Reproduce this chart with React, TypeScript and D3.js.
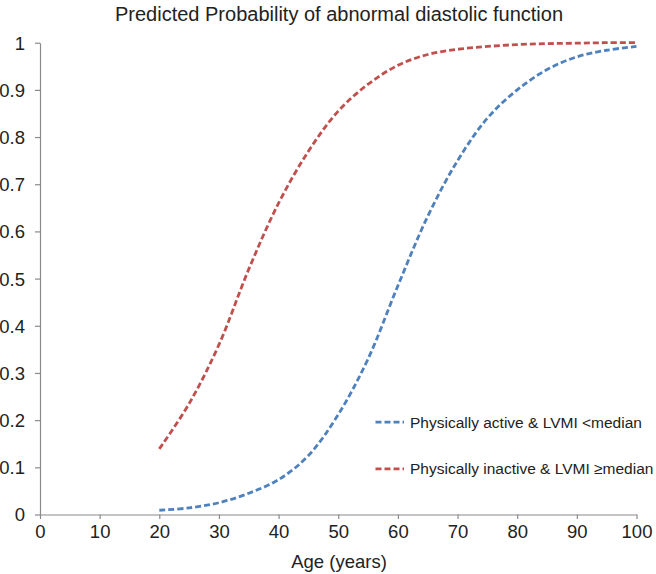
import React, { useEffect, useRef } from "react";
import * as d3 from "d3";

const ages = [20, 25, 30, 35, 40, 45, 50, 55, 60, 65, 70, 75, 80, 85, 90, 95, 100];
const activeLow = [0.009, 0.014, 0.025, 0.045, 0.074, 0.125, 0.212, 0.33, 0.485, 0.632, 0.75, 0.84, 0.9, 0.943, 0.97, 0.984, 0.992];
const inactiveHigh = [0.139, 0.235, 0.36, 0.52, 0.66, 0.77, 0.855, 0.912, 0.952, 0.975, 0.986, 0.992, 0.996, 0.998, 0.999, 1.0, 1.0];
const xTicks = [0, 10, 20, 30, 40, 50, 60, 70, 80, 90, 100];
const yTicks = [0, 0.1, 0.2, 0.3, 0.4, 0.5, 0.6, 0.7, 0.8, 0.9, 1];
const seriesNames = ["Physically active & LVMI <median", "Physically inactive & LVMI \u2265median"];
const seriesColors = ["#4f81bd", "#c0504d"];
const title = "Predicted Probability of abnormal diastolic function";
const xTitle = "Age (years)";

const W = 656;
const H = 574;
const FONT = "'Liberation Sans', Arial, Helvetica, sans-serif";

export default function App() {
  const ref = useRef<SVGSVGElement>(null);

  useEffect(() => {
    const svg = d3.select(ref.current);
    svg.selectAll("*").remove();

    const x = d3.scaleLinear().domain([0, 100]).range([40, 636.5]);
    const y = d3.scaleLinear().domain([0, 1]).range([514.5, 42.7]);
    const axisColor = "#8a8a8a";

    svg.append("text")
      .attr("x", 339).attr("y", 21)
      .attr("text-anchor", "middle")
      .attr("font-family", FONT).attr("font-size", 20)
      .attr("fill", "#222")
      .text(title);

    const gx = svg.append("g").attr("transform", `translate(0,${y(0)})`)
      .call(d3.axisBottom(x).tickValues(xTicks).tickSize(4.5).tickSizeOuter(0).tickPadding(6).tickFormat(d3.format("d")));
    gx.select(".domain").attr("stroke", axisColor).attr("stroke-width", 1.2);
    gx.selectAll(".tick line").attr("stroke", axisColor).attr("stroke-width", 1.2);
    gx.selectAll(".tick text")
      .attr("font-family", FONT).attr("font-size", 18.5).attr("fill", "#222")
      .attr("dy", null).attr("y", 23.5);

    const gy = svg.append("g").attr("transform", `translate(${x(0)},0)`)
      .call(d3.axisLeft(y).tickValues(yTicks).tickSize(5).tickSizeOuter(0).tickPadding(10).tickFormat((d: any) => (d === 0 || d === 1 ? String(d) : d3.format(".1f")(d))));
    gy.select(".domain").attr("stroke", axisColor).attr("stroke-width", 1.2);
    gy.selectAll(".tick line").attr("stroke", axisColor).attr("stroke-width", 1.2);
    gy.selectAll(".tick text")
      .attr("font-family", FONT).attr("font-size", 18.5).attr("fill", "#222")
      .attr("dy", "0.35em").attr("x", -15);

    svg.append("text")
      .attr("x", 339).attr("y", 568)
      .attr("text-anchor", "middle")
      .attr("font-family", FONT).attr("font-size", 18.5)
      .attr("fill", "#222")
      .text(xTitle);

    const line = d3.line<number>()
      .x((_, i) => x(ages[i]))
      .y((d) => y(d))
      .curve(d3.curveCatmullRom.alpha(0.5));

    [activeLow, inactiveHigh].forEach((s, i) => {
      svg.append("path")
        .datum(s)
        .attr("d", line)
        .attr("fill", "none")
        .attr("stroke", seriesColors[i])
        .attr("stroke-width", 2.8)
        .attr("stroke-dasharray", "6,3");
    });

    const legY = [y(0.2) + 2, y(0.1) + 1.5];
    seriesNames.forEach((name, i) => {
      svg.append("line")
        .attr("x1", 375.5).attr("x2", 404)
        .attr("y1", legY[i]).attr("y2", legY[i])
        .attr("stroke", seriesColors[i])
        .attr("stroke-width", 2.8)
        .attr("stroke-dasharray", "6,3");
      svg.append("text")
        .attr("x", 410).attr("y", legY[i])
        .attr("dy", "0.35em")
        .attr("font-family", FONT).attr("font-size", 15.5)
        .attr("fill", "#222")
        .text(name);
    });
  }, []);

  return (
    <svg ref={ref} width={W} height={H} style={{ position: "absolute", left: 0, top: 0, background: "#fff" }} />
  );
}
